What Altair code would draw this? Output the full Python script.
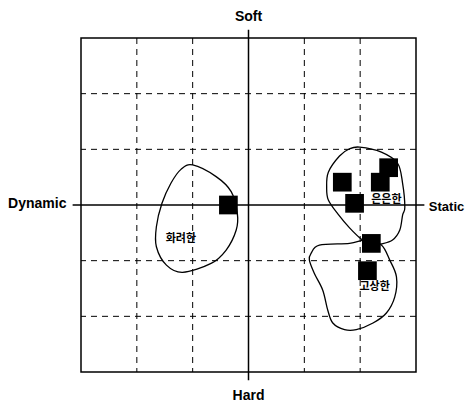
import altair as alt
import pandas as pd

# ---- data ----
pt_x = [-0.36, 1.68, 2.36, 2.51, 1.90, 2.20, 2.13]
pt_y = [0.00, 0.41, 0.41, 0.67, 0.03, -0.69, -1.18]

grid_vals = [-2, -1, 1, 2]

label_text = ["화려한", "은은한", "고상한"]
label_x = [-1.21, 2.47, 2.26]
label_y = [-0.61, 0.09, -1.47]

blob_a_x = [-1.00, -0.58, -0.31, -0.20, -0.22, -0.40, -0.67, -1.18, -1.47, -1.65, -1.65, -1.55, -1.39, -1.21]
blob_a_y = [0.72, 0.51, 0.24, -0.15, -0.45, -0.81, -1.05, -1.21, -1.08, -0.75, -0.39, 0.03, 0.39, 0.64]

blob_b_x = [1.99, 2.38, 2.67, 2.76, 2.80, 2.76, 2.71, 2.58, 2.38, 2.20, 2.04, 1.81, 1.60, 1.43, 1.40, 1.43, 1.63, 1.81]
blob_b_y = [1.04, 0.95, 0.75, 0.39, -0.04, -0.18, -0.45, -0.63, -0.70, -0.72, -0.63, -0.41, -0.16, 0.09, 0.31, 0.59, 0.88, 1.01]

blob_c_x = [1.81, 1.27, 1.12, 1.09, 1.18, 1.33, 1.42, 1.51, 1.72, 1.93, 2.23, 2.47, 2.62, 2.65, 2.53, 2.38, 2.10]
blob_c_y = [-0.69, -0.72, -0.87, -0.99, -1.23, -1.53, -1.89, -2.12, -2.24, -2.24, -2.12, -1.94, -1.65, -1.29, -0.99, -0.72, -0.63]

axis_names = ["Soft", "Hard", "Dynamic", "Static"]
axis_name_x = [0.0, 0.0, -3.26, 3.23]
axis_name_y = [3.38, -3.44, 0.02, -0.03]
axis_name_align = ["center", "center", "right", "left"]
axis_name_size = [14, 14, 14, 13]

# ---- tables ----
pts = pd.DataFrame({"x": pt_x, "y": pt_y})
grid = pd.DataFrame({"v": grid_vals})
labels = pd.DataFrame({"t": label_text, "x": label_x, "y": label_y})
rows = []
for name, xs_, ys_ in [("a", blob_a_x, blob_a_y), ("b", blob_b_x, blob_b_y), ("c", blob_c_x, blob_c_y)]:
    for i, (a, b) in enumerate(zip(xs_, ys_)):
        rows.append({"g": name, "o": i, "x": a, "y": b})
blobs = pd.DataFrame(rows)
names = pd.DataFrame({"t": axis_names, "x": axis_name_x, "y": axis_name_y,
                      "al": axis_name_align, "fs": axis_name_size})
center = pd.DataFrame({"lo": [-3.15], "hi": [3.15], "z": [0]})

xs = alt.Scale(domain=[-3, 3], nice=False, zero=False)
ys = alt.Scale(domain=[-3, 3], nice=False, zero=False)

vgrid = alt.Chart(grid).mark_rule(color="black", strokeWidth=1, strokeDash=[6, 5]).encode(
    x=alt.X("v:Q", scale=xs, axis=None))
hgrid = alt.Chart(grid).mark_rule(color="black", strokeWidth=1, strokeDash=[6, 5]).encode(
    y=alt.Y("v:Q", scale=ys, axis=None))

vaxis = alt.Chart(center).mark_rule(color="black", strokeWidth=1.5).encode(
    x=alt.X("z:Q", scale=xs, axis=None), y=alt.Y("lo:Q", scale=ys, axis=None), y2="hi:Q")
haxis = alt.Chart(center).mark_rule(color="black", strokeWidth=1.5).encode(
    y=alt.Y("z:Q", scale=ys, axis=None), x=alt.X("lo:Q", scale=xs, axis=None), x2="hi:Q")

blob_layer = alt.Chart(blobs).mark_line(color="black", strokeWidth=1.3, interpolate="cardinal-closed").encode(
    x=alt.X("x:Q", scale=xs, axis=None), y=alt.Y("y:Q", scale=ys, axis=None),
    detail="g:N", order="o:Q")

squares = alt.Chart(pts).mark_square(color="black", size=350, opacity=1, filled=True).encode(
    x=alt.X("x:Q", scale=xs, axis=None), y=alt.Y("y:Q", scale=ys, axis=None))

lab = alt.Chart(labels).mark_text(font="Noto Sans CJK KR", fontSize=11, fontWeight="bold", color="black",
                                 baseline="middle", align="center").encode(
    x=alt.X("x:Q", scale=xs, axis=None), y=alt.Y("y:Q", scale=ys, axis=None), text="t:N")

name_layers = []
for al in ["center", "right", "left"]:
    name_layers.append(
        alt.Chart(names[names["al"] == al]).mark_text(font="Liberation Sans", fontWeight="bold",
                                                     color="black", baseline="middle", align=al).encode(
            x=alt.X("x:Q", scale=xs, axis=None), y=alt.Y("y:Q", scale=ys, axis=None), text="t:N",
            size=alt.Size("fs:Q", scale=None, legend=None)))

chart = alt.layer(vgrid, hgrid, vaxis, haxis, blob_layer, squares, lab, *name_layers).properties(
    width=335, height=334,
    padding={"left": 73, "top": 30, "right": 49, "bottom": 33},
    autosize=alt.AutoSizeParams(type="none"),
    background="white",
).configure_view(stroke="black", strokeWidth=1.5)

chart.save("out.html", embed_options={"renderer": "svg", "actions": False})
